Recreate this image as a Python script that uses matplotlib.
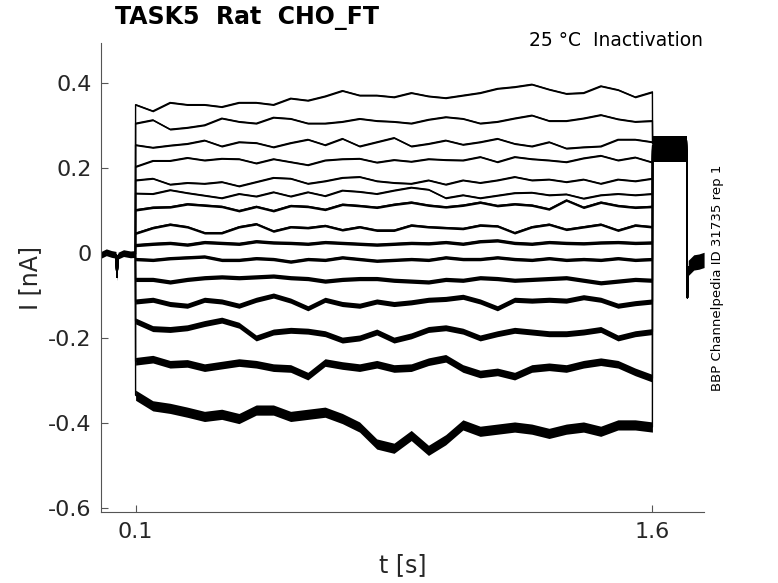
import numpy as np
import matplotlib.pyplot as plt

plt.rcParams['font.family'] = 'DejaVu Sans'
plt.rcParams['axes.unicode_minus'] = False

# holding period before the step, same for every sweep
t_hold = [0.0, 0.015, 0.03, 0.043, 0.046, 0.049, 0.065, 0.085, 0.0995]
i_hold = [-0.004, 0.002, -0.002, -0.004, -0.057, -0.006, 0.0, -0.003, -0.002]

# step segment, read every 0.05 s from 0.1 s to 1.6 s
t_step = np.linspace(0.1, 1.6, 31)
sweep01 = [0.35, 0.335, 0.355, 0.35, 0.35, 0.345, 0.355, 0.355, 0.35, 0.365, 0.36,
           0.37, 0.383, 0.372, 0.372, 0.368, 0.378, 0.37, 0.366, 0.372, 0.378,
           0.388, 0.392, 0.398, 0.386, 0.376, 0.378, 0.394, 0.385, 0.368, 0.38]
sweep02 = [0.306, 0.314, 0.292, 0.296, 0.302, 0.318, 0.31, 0.306, 0.32, 0.317, 0.306,
           0.306, 0.31, 0.317, 0.312, 0.31, 0.306, 0.315, 0.321, 0.317, 0.306,
           0.31, 0.318, 0.325, 0.312, 0.312, 0.318, 0.326, 0.316, 0.31, 0.312]
sweep03 = [0.255, 0.249, 0.254, 0.258, 0.266, 0.252, 0.262, 0.26, 0.25, 0.26, 0.268,
           0.255, 0.27, 0.252, 0.262, 0.272, 0.252, 0.258, 0.266, 0.256, 0.262,
           0.27, 0.258, 0.252, 0.262, 0.247, 0.25, 0.252, 0.268, 0.268, 0.262]
sweep04 = [0.204, 0.218, 0.218, 0.225, 0.219, 0.223, 0.222, 0.212, 0.222, 0.215, 0.208,
           0.219, 0.222, 0.223, 0.214, 0.22, 0.216, 0.222, 0.22, 0.219, 0.227,
           0.215, 0.227, 0.222, 0.219, 0.215, 0.224, 0.23, 0.219, 0.226, 0.214]
sweep05 = [0.172, 0.176, 0.162, 0.166, 0.164, 0.168, 0.158, 0.168, 0.178, 0.176, 0.164,
           0.17, 0.178, 0.18, 0.17, 0.166, 0.164, 0.172, 0.162, 0.172, 0.166,
           0.172, 0.18, 0.172, 0.174, 0.168, 0.174, 0.164, 0.174, 0.17, 0.176]
sweep06 = [0.141, 0.14, 0.149, 0.142, 0.136, 0.13, 0.14, 0.134, 0.144, 0.134, 0.144,
           0.135, 0.148, 0.145, 0.14, 0.148, 0.155, 0.15, 0.13, 0.137, 0.13,
           0.136, 0.142, 0.143, 0.137, 0.139, 0.129, 0.137, 0.14, 0.137, 0.14]
sweep07 = [0.102, 0.108, 0.109, 0.116, 0.113, 0.11, 0.1, 0.11, 0.1, 0.112, 0.11,
           0.103, 0.115, 0.112, 0.108, 0.115, 0.12, 0.113, 0.109, 0.113, 0.12,
           0.112, 0.116, 0.113, 0.104, 0.125, 0.108, 0.12, 0.112, 0.108, 0.11]
sweep08 = [0.047, 0.06, 0.068, 0.062, 0.048, 0.048, 0.062, 0.069, 0.052, 0.062, 0.06,
           0.065, 0.055, 0.062, 0.054, 0.054, 0.066, 0.062, 0.06, 0.058, 0.066,
           0.064, 0.048, 0.062, 0.068, 0.056, 0.062, 0.068, 0.054, 0.066, 0.062]
sweep09 = [0.019, 0.022, 0.024, 0.02, 0.026, 0.024, 0.022, 0.028, 0.025, 0.024, 0.022,
           0.026, 0.024, 0.022, 0.02, 0.022, 0.024, 0.023, 0.026, 0.022, 0.028,
           0.03, 0.024, 0.022, 0.026, 0.024, 0.023, 0.025, 0.026, 0.024, 0.025]
sweep10 = [-0.014, -0.016, -0.012, -0.01, -0.008, -0.016, -0.016, -0.012, -0.014, -0.02, -0.014,
           -0.016, -0.01, -0.014, -0.018, -0.016, -0.014, -0.016, -0.01, -0.014, -0.014,
           -0.01, -0.014, -0.016, -0.012, -0.016, -0.014, -0.016, -0.012, -0.016, -0.014]
sweep11 = [-0.062, -0.062, -0.068, -0.062, -0.058, -0.056, -0.058, -0.056, -0.054, -0.058, -0.06,
           -0.066, -0.062, -0.06, -0.06, -0.064, -0.066, -0.068, -0.062, -0.064, -0.058,
           -0.06, -0.064, -0.062, -0.06, -0.058, -0.064, -0.07, -0.066, -0.062, -0.064]
sweep12 = [-0.114, -0.11, -0.12, -0.124, -0.11, -0.114, -0.124, -0.11, -0.1, -0.112, -0.13,
           -0.11, -0.12, -0.124, -0.114, -0.12, -0.116, -0.11, -0.108, -0.103, -0.114,
           -0.13, -0.11, -0.112, -0.11, -0.112, -0.104, -0.11, -0.124, -0.118, -0.114]
sweep13 = [-0.16, -0.178, -0.18, -0.176, -0.166, -0.158, -0.17, -0.2, -0.186, -0.182, -0.184,
           -0.19, -0.205, -0.2, -0.186, -0.205, -0.195, -0.18, -0.176, -0.184, -0.2,
           -0.19, -0.182, -0.186, -0.19, -0.19, -0.186, -0.18, -0.2, -0.19, -0.185]
sweep14 = [-0.255, -0.25, -0.262, -0.26, -0.27, -0.264, -0.258, -0.262, -0.27, -0.272, -0.29,
           -0.258, -0.265, -0.27, -0.262, -0.272, -0.27, -0.256, -0.248, -0.272, -0.285,
           -0.28, -0.29, -0.272, -0.268, -0.272, -0.262, -0.256, -0.262, -0.28, -0.295]
sweep15 = [-0.335, -0.36, -0.366, -0.375, -0.385, -0.38, -0.39, -0.37, -0.37, -0.385, -0.38,
           -0.375, -0.39, -0.41, -0.45, -0.46, -0.43, -0.465, -0.44, -0.405, -0.42,
           -0.415, -0.41, -0.415, -0.425, -0.415, -0.41, -0.42, -0.405, -0.405, -0.41]
sweeps = [sweep01, sweep02, sweep03, sweep04, sweep05, sweep06, sweep07, sweep08,
          sweep09, sweep10, sweep11, sweep12, sweep13, sweep14, sweep15]
# half width of the noise band of each sweep [nA]
noise = [0.002, 0.002, 0.002, 0.002, 0.002, 0.002, 0.003, 0.003,
         0.004, 0.004, 0.005, 0.006, 0.007, 0.009, 0.012]

# test pulse after the step and the tail
t_test = [1.6005, 1.625, 1.65, 1.675, 1.6995]
test_level = [0.265, 0.262, 0.258, 0.255, 0.252, 0.249, 0.246, 0.244,
              0.242, 0.24, 0.237, 0.234, 0.231, 0.228, 0.224]
t_tail = [1.7, 1.7015, 1.704, 1.72, 1.735, 1.75]
i_tail = [-0.03, -0.105, -0.035, -0.022, -0.02, -0.016]

fig = plt.figure(figsize=(7.78, 5.83), dpi=100)
ax = fig.add_axes([0.130, 0.122, 0.775, 0.804])

ax.fill_between(t_hold, np.array(i_hold) - 0.008, np.array(i_hold) + 0.008, color='k', lw=0)
ax.fill_between(t_tail[2:], np.array(i_tail[2:]) - 0.018, np.array(i_tail[2:]) + 0.018,
                color='k', lw=0)
for s, a, lvl in zip(sweeps, noise, test_level):
    s = np.array(s)
    t = np.concatenate([t_hold, t_step, t_test, t_tail])
    i = np.concatenate([i_hold, s, [lvl] * len(t_test), i_tail])
    ax.plot(t, i, color='k', lw=1.0)
    ax.fill_between(t_step, s - a, s + a, color='k', lw=0)
    ax.fill_between(t_test, lvl - 0.01, lvl + 0.01, color='k', lw=0)

ax.set_xlim(0, 1.75)
ax.set_ylim(-0.61, 0.495)
ax.set_xticks([0.1, 1.6])
ax.set_xticklabels(['0.1', '1.6'])
ax.set_yticks([-0.6, -0.4, -0.2, 0, 0.2, 0.4])
ax.set_yticklabels(['-0.6', '-0.4', '-0.2', '0', '0.2', '0.4'])
ax.tick_params(direction='in', length=5, width=0.8, colors='#555555',
               labelcolor='#262626', labelsize=16, pad=7)
for side in ['top', 'right']:
    ax.spines[side].set_visible(False)
for side in ['left', 'bottom']:
    ax.spines[side].set_color('#555555')
    ax.spines[side].set_linewidth(0.8)

ax.set_xlabel('t [s]', fontsize=17, color='#262626')
ax.set_ylabel('I [nA]', fontsize=17, color='#262626')
ax.xaxis.set_label_coords(0.5, -0.088)
ax.yaxis.set_label_coords(-0.098, 0.5)

fig.text(0.148, 0.969, 'TASK5  Rat  CHO_FT', fontsize=17, fontweight='bold',
         ha='left', va='center')
fig.text(0.9036, 0.9297, '25 °C  Inactivation', fontsize=13.5, ha='right', va='center')
fig.text(0.9216, 0.524, 'BBP Channelpedia ID 31735 rep 1', fontsize=9.5,
         rotation=90, ha='center', va='center')

fig.savefig('out.png', dpi=100)
